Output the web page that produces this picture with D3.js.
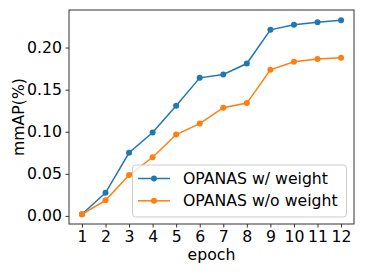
<!DOCTYPE html>
<html><head><meta charset="utf-8">
<script src="https://cdn.jsdelivr.net/npm/d3@7"></script>
<style>body{margin:0;background:#fff}svg{display:block;font-family:"DejaVu Sans",sans-serif}</style>
</head><body><svg id="c" width="365" height="274"></svg>
<script>
const epochs = [1,2,3,4,5,6,7,8,9,10,11,12];
const withWeight = [0.002,0.0275,0.075,0.099,0.131,0.164,0.168,0.181,0.221,0.227,0.230,0.2325];
const withoutWeight = [0.002,0.0185,0.0485,0.0697,0.0967,0.1097,0.1286,0.134,0.1736,0.183,0.1863,0.1878];
const yTicks = [0.00,0.05,0.10,0.15,0.20];
const seriesNames = ["OPANAS w/ weight","OPANAS w/o weight"];
const colors = ["#1f77b4","#ff7f0e"];

const svg = d3.select("#c");
const L=69, R=354, T=10, B=224;
const x = d3.scaleLinear().domain([0.45,12.55]).range([L,R]);
const y = d3.scaleLinear().domain([-0.0096,0.2446]).range([B,T]);
const fs = 15.7;

svg.append("g").attr("transform",`translate(0,${B})`)
  .call(d3.axisBottom(x).tickValues(epochs).tickFormat(d3.format("d")).tickSize(3.5).tickPadding(3.5))
  .call(g=>{g.select(".domain").remove();g.selectAll("line").attr("stroke","#333");g.selectAll("text").attr("font-size",fs).attr("fill","#000").attr("font-family","DejaVu Sans");});
svg.append("g").attr("transform",`translate(${L},0)`)
  .call(d3.axisLeft(y).tickValues(yTicks).tickFormat(d3.format(".2f")).tickSize(3.5).tickPadding(3.5))
  .call(g=>{g.select(".domain").remove();g.selectAll("line").attr("stroke","#333");g.selectAll("text").attr("font-size",fs).attr("fill","#000").attr("font-family","DejaVu Sans");});

const data=[withWeight,withoutWeight];
const line=d3.line().x((d,i)=>x(epochs[i])).y(d=>y(d));
data.forEach((s,k)=>{
  svg.append("path").attr("d",line(s)).attr("fill","none").attr("stroke",colors[k]).attr("stroke-width",1.5);
  svg.append("g").selectAll("circle").data(s).join("circle")
    .attr("cx",(d,i)=>x(epochs[i])).attr("cy",d=>y(d)).attr("r",3).attr("fill",colors[k]);
});

svg.append("rect").attr("x",L).attr("y",T).attr("width",R-L).attr("height",B-T)
  .attr("fill","none").attr("stroke","#333").attr("stroke-width",1);

// legend
const lg=svg.append("g");
lg.append("rect").attr("x",132.5).attr("y",165).attr("width",214).attr("height",52).attr("rx",3)
  .attr("fill","#fff").attr("fill-opacity",0.8).attr("stroke","#ccc").attr("stroke-width",1);
seriesNames.forEach((n,k)=>{
  const yy=178.5+k*22.3;
  lg.append("line").attr("x1",138).attr("x2",170).attr("y1",yy).attr("y2",yy).attr("stroke",colors[k]).attr("stroke-width",1.5);
  lg.append("circle").attr("cx",154).attr("cy",yy).attr("r",3).attr("fill",colors[k]);
  lg.append("text").attr("x",183).attr("y",yy).attr("dy","0.36em").attr("font-size",fs).text(n);
});

svg.append("text").attr("x",(L+R)/2).attr("y",260).attr("text-anchor","middle").attr("font-size",fs).text("epoch");
svg.append("text").attr("transform",`translate(24,${(T+B)/2}) rotate(-90)`).attr("text-anchor","middle").attr("font-size",fs).text("mmAP(%)");
</script></body></html>
